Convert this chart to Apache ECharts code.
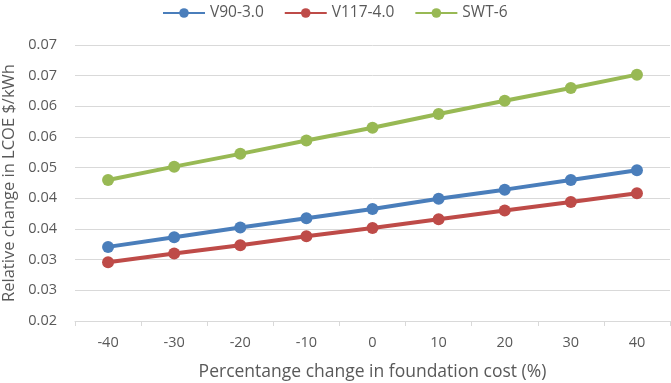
<!DOCTYPE html>
<html>
<head>
<meta charset="utf-8">
<script src="https://cdn.jsdelivr.net/npm/echarts@6/dist/echarts.min.js"></script>
<style>
  html, body { margin: 0; padding: 0; background: #fff; }
  #chart { width: 671px; height: 383px; }
</style>
</head>
<body>
<div id="chart"></div>
<script>
var costChange = ['-40', '-30', '-20', '-10', '0', '10', '20', '30', '40'];
var v90Data = [0.0345, 0.0364, 0.0383, 0.0401, 0.0419, 0.0439, 0.0457, 0.0476, 0.0495];
var v117Data = [0.0315, 0.0332, 0.0348, 0.0366, 0.0382, 0.0399, 0.0416, 0.0433, 0.0450];
var swtData = [0.0476, 0.0502, 0.0527, 0.0553, 0.0578, 0.0605, 0.0631, 0.0656, 0.0682];

var textColor = '#595959';
var fontName = '"Open Sans", "Liberation Sans", sans-serif';

var chart = echarts.init(document.getElementById('chart'));

function lineSeries(name, color, data) {
    return {
        name: name,
        type: 'line',
        data: data,
        symbol: 'circle',
        symbolSize: 12,
        lineStyle: { color: color, width: 4 },
        itemStyle: { color: color },
        animation: false
    };
}

var option = {
    backgroundColor: '#fff',
    textStyle: { fontFamily: fontName },
    legend: {
        left: 157,
        top: 0,
        itemWidth: 42,
        itemHeight: 12,
        itemGap: 20,
        textStyle: { color: textColor, fontSize: 15.5, fontFamily: fontName },
        data: ['V90-3.0', 'V117-4.0', 'SWT-6']
    },
    grid: {
        left: 75,
        right: 1,
        top: 45,
        bottom: 62,
        outerBoundsMode: 'none'
    },
    xAxis: {
        type: 'category',
        data: costChange,
        boundaryGap: true,
        name: 'Percentange change in foundation cost (%)',
        nameLocation: 'middle',
        nameGap: 42,
        nameTextStyle: { color: textColor, fontSize: 17.5, fontFamily: fontName },
        axisLine: { lineStyle: { color: '#d9d9d9', width: 1 } },
        axisTick: { show: true, alignWithLabel: false, length: 5, lineStyle: { color: '#d9d9d9' } },
        axisLabel: { color: textColor, fontSize: 14.5, margin: 14, fontFamily: fontName }
    },
    yAxis: {
        type: 'value',
        min: 0.02,
        max: 0.074,
        interval: 0.006,
        name: 'Relative change in LCOE $/kWh',
        nameLocation: 'middle',
        nameGap: 54,
        nameTextStyle: { color: textColor, fontSize: 16.5, fontFamily: fontName },
        axisLine: { show: false },
        axisTick: { show: false },
        splitLine: { lineStyle: { color: '#d9d9d9', width: 1 } },
        axisLabel: {
            color: textColor,
            fontSize: 14.5,
            margin: 18,
            fontFamily: fontName,
            formatter: function (v) { return v.toFixed(2); }
        }
    },
    series: [
        lineSeries('V90-3.0', '#4A7EBB', v90Data),
        lineSeries('V117-4.0', '#BE4B48', v117Data),
        lineSeries('SWT-6', '#98B954', swtData)
    ]
};

chart.setOption(option);
</script>
</body>
</html>
